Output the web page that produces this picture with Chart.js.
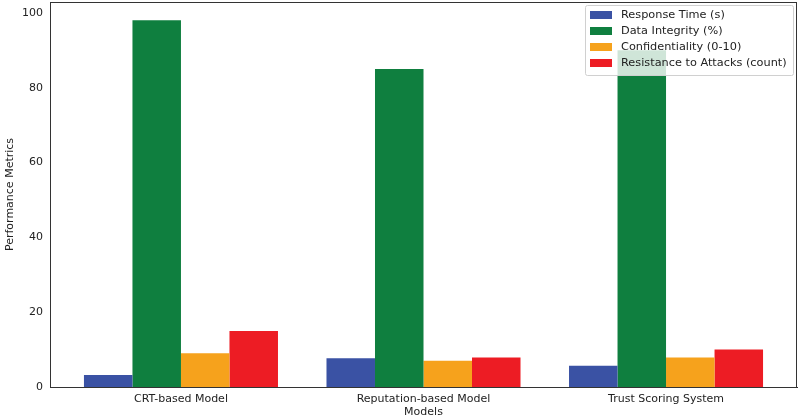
<!DOCTYPE html>
<html>
<head>
<meta charset="utf-8">
<script src="https://cdn.jsdelivr.net/npm/chart.js@4.4.0/dist/chart.umd.min.js"></script>
<style>
html,body{margin:0;padding:0;background:#fff;}
#wrap{width:800px;height:419px;position:relative;}
</style>
</head>
<body>
<div id="wrap"><canvas id="c" width="800" height="419"></canvas></div>
<script>
const categories = ["CRT-based Model", "Reputation-based Model", "Trust Scoring System"];
const seriesNames = ["Response Time (s)", "Data Integrity (%)", "Confidentiality (0-10)", "Resistance to Attacks (count)"];
const responseTime = [3.2, 7.7, 5.7];
const dataIntegrity = [98, 85, 90];
const confidentiality = [9, 7, 7.9];
const resistance = [15, 7.9, 10];
const yTicks = [0, 20, 40, 60, 80, 100];
const colors = ["#3a52a4", "#0f7f3f", "#f6a21c", "#ed1c24"];

const FONT = "'DejaVu Sans', sans-serif";
const seriesValues = [responseTime, dataIntegrity, confidentiality, resistance];

const framePlugin = {
  id: 'frame',
  afterDatasetsDraw(chart) {
    const {ctx, chartArea: a} = chart;
    ctx.save();
    ctx.strokeStyle = '#333';
    ctx.lineWidth = 1;
    ctx.strokeRect(a.left + 0.5, a.top + 0.5, a.right - a.left - 1, a.bottom - a.top);
    // legend
    const bx = 585, by = 5, bw = 208, bh = 70;
    ctx.fillStyle = 'rgba(255,255,255,0.8)';
    ctx.strokeStyle = '#d0d0d0';
    ctx.beginPath();
    if (ctx.roundRect) ctx.roundRect(bx + 0.5, by + 0.5, bw, bh, 2); else ctx.rect(bx + 0.5, by + 0.5, bw, bh);
    ctx.fill();
    ctx.stroke();
    ctx.font = "11.3px " + FONT;
    ctx.textBaseline = 'middle';
    chart.data.datasets.forEach((ds, i) => {
      const cy = 15 + i * 16;
      ctx.fillStyle = ds.backgroundColor;
      ctx.fillRect(590, cy - 4, 22, 8);
      ctx.fillStyle = '#222';
      ctx.fillText(ds.label, 621, cy + 0.5);
    });
    ctx.restore();
  }
};

new Chart(document.getElementById('c'), {
  type: 'bar',
  data: {
    datasets: seriesNames.map((n, i) => ({
      label: n,
      data: seriesValues[i].map((v, j) => ({x: j, y: v})),
      backgroundColor: colors[i],
      borderWidth: 0,
      barPercentage: 1.0,
      categoryPercentage: 0.8
    }))
  },
  options: {
    responsive: false,
    animation: false,
    devicePixelRatio: 1,
    layout: {padding: {left: 0, right: 3, top: 2, bottom: 0}},
    plugins: {legend: {display: false}, tooltip: {enabled: false}},
    scales: {
      x: {
        type: 'linear',
        min: -0.54,
        max: 2.54,
        offset: false,
        grid: {display: false, drawTicks: true, tickLength: 4, tickColor: '#333'},
        border: {display: true, color: '#333'},
        ticks: {color: '#222', font: {family: FONT, size: 11}, padding: 2, maxRotation: 0,
                callback: (v) => categories[v]},
        afterBuildTicks(s) { s.ticks = categories.map((c, i) => ({value: i})); },
        title: {display: true, text: 'Models', color: '#222', font: {family: FONT, size: 11}, padding: {top: 0, bottom: 0}},
        afterFit(s) { s.height = 32; s.paddingLeft = 0; s.paddingRight = 0; }
      },
      y: {
        min: 0,
        max: 102.9,
        grid: {display: false, drawTicks: true, tickLength: 4, tickColor: '#333'},
        border: {display: true, color: '#333'},
        ticks: {color: '#222', font: {family: FONT, size: 11}, padding: 3, stepSize: 20},
        afterBuildTicks(s) { s.ticks = yTicks.map(v => ({value: v})); },
        title: {display: true, text: 'Performance Metrics', color: '#222', font: {family: FONT, size: 11}, padding: {top: 4, bottom: 0}},
        afterFit(s) { s.width = 50; s.paddingTop = 0; s.paddingBottom = 0; }
      }
    }
  },
  plugins: [framePlugin]
});
</script>
</body>
</html>
